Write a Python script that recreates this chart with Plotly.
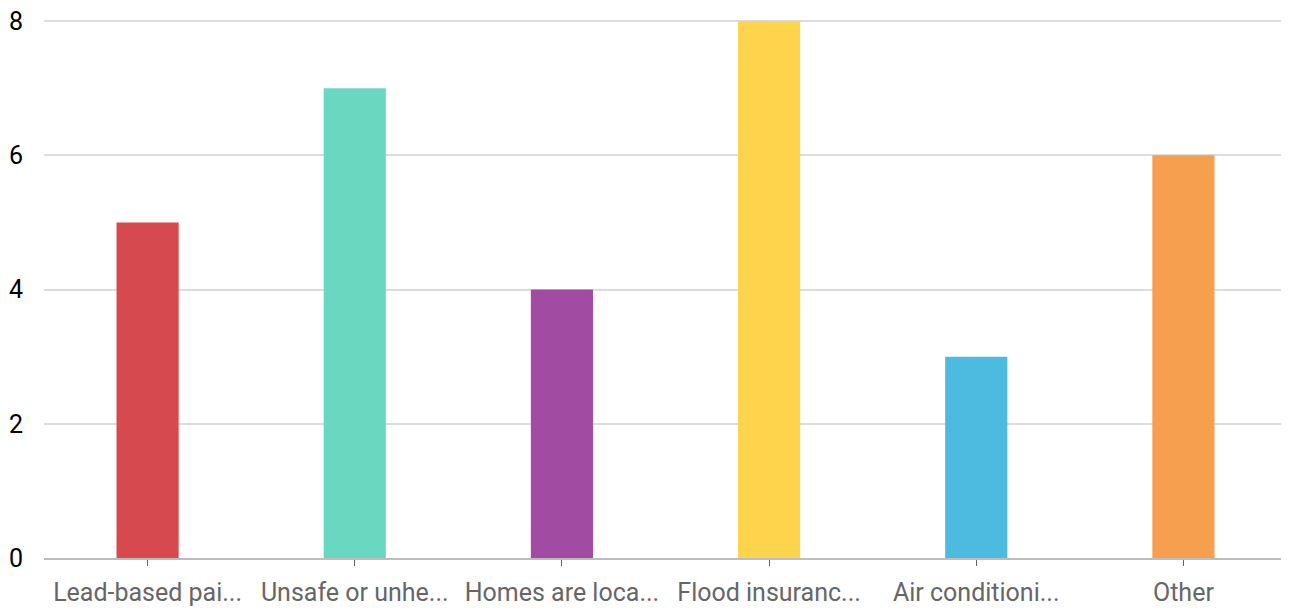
import plotly.graph_objects as go

# category labels (already truncated in the source chart)
categories = [
    "Lead-based pai...",
    "Unsafe or unhe...",
    "Homes are loca...",
    "Flood insuranc...",
    "Air conditioni...",
    "Other",
]
counts = [5, 7, 4, 8, 3, 6]
bar_colors = ["#d64a4f", "#6ad8c0", "#a24ba3", "#fdd44c", "#4dbae0", "#f59f4f"]
y_ticks = [0, 2, 4, 6, 8]

fig = go.Figure()
fig.add_trace(go.Bar(
    x=categories,
    y=counts,
    marker=dict(color=bar_colors, line=dict(width=0)),
    width=0.3,
    showlegend=False,
))

# the page body adds an 8px margin, so the figure is shrunk to compensate
fig.update_layout(
    width=1281,
    height=601,
    margin=dict(l=36, r=2, t=11, b=51),
    paper_bgcolor="white",
    plot_bgcolor="white",
    font=dict(family="Roboto, Arial, sans-serif", size=25, color="#000"),
    bargap=0.7,
)
fig.update_xaxes(
    automargin=False,
    showline=True, linecolor="#bdbdbd", linewidth=2,
    ticks="outside", ticklen=6, tickwidth=1, tickcolor="#666",
    tickfont=dict(color="#666", size=25),
    ticklabelstandoff=5,
    showgrid=False,
)
# range a touch above 8 so the top gridline is kept
fig.update_yaxes(
    automargin=False,
    range=[0, 8.03], tickvals=y_ticks,
    showgrid=True, gridcolor="#dcdcdc", gridwidth=2,
    zeroline=False, showline=False, ticks="",
    tickfont=dict(color="#000", size=25),
    ticklabelstandoff=20,
    ticklabeloverflow="allow",
)

fig.write_html("out.html")
